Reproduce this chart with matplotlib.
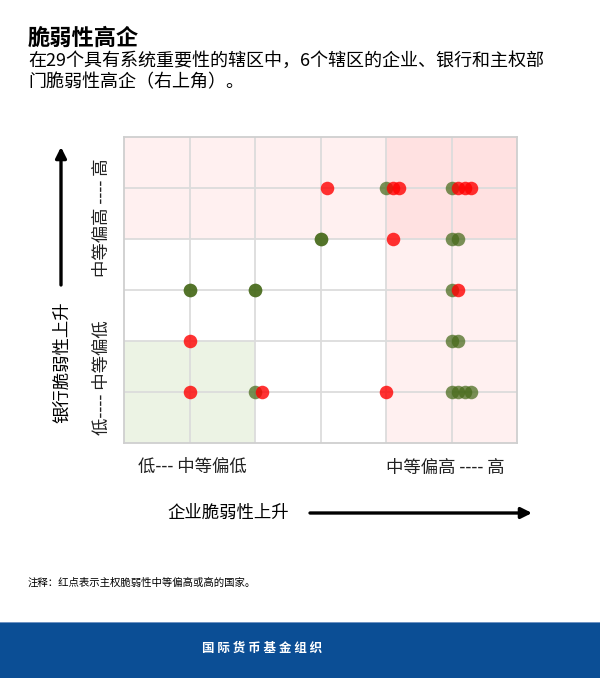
import matplotlib
matplotlib.use("Agg")
import matplotlib.pyplot as plt
from matplotlib.patches import Rectangle

plt.rcParams['font.family'] = ['Noto Sans CJK SC', 'DejaVu Sans']

# jurisdictions without high sovereign vulnerability (green)
green_x = [4.0, 5.0, 3.0, 3.0, 5.0, 5.1, 1.0, 1.0, 2.0, 2.0, 5.0, 5.0, 5.1, 2.0, 5.0, 5.1, 5.2, 5.3]
green_y = [5, 5, 4, 4, 4, 4, 3, 3, 3, 3, 3, 2, 2, 1, 1, 1, 1, 1]
# jurisdictions with medium-high / high sovereign vulnerability (red)
red_x = [3.1, 4.1, 4.2, 5.1, 5.2, 5.3, 4.1, 5.1, 1.0, 1.0, 2.1, 4.0]
red_y = [5, 5, 5, 5, 5, 5, 4, 3, 2, 1, 1, 1]

title = "脆弱性高企"
subtitle1 = "在29个具有系统重要性的辖区中，6个辖区的企业、银行和主权部"
subtitle2 = "门脆弱性高企（右上角）。"
x_low, x_high = "低--- 中等偏低", "中等偏高 ---- 高"
y_low, y_high = "低---- 中等偏低", "中等偏高 ---- 高"
x_title = "企业脆弱性上升"
y_title = "银行脆弱性上升"
note = "注释：红点表示主权脆弱性中等偏高或高的国家。"
footer = "国 际 货 币 基 金 组 织"

fig = plt.figure(figsize=(6, 6.78), dpi=100)
ax = fig.add_axes([124 / 600, 1 - 443 / 678, 393 / 600, 306 / 678])

# shaded zones
ax.axhspan(4, 6, color='red', alpha=0.06, lw=0, zorder=0)
ax.axvspan(4, 6, color='red', alpha=0.06, lw=0, zorder=0)
ax.add_patch(Rectangle((0, 0), 2, 2, color='#e9f2e0', alpha=0.85, lw=0, zorder=0))

ax.scatter(green_x, green_y, s=95, color='#466919', alpha=0.72, lw=0, zorder=3)
ax.scatter(red_x, red_y, s=95, color='#ff0000', alpha=0.8, lw=0, zorder=4)

ax.set_xlim(0, 6)
ax.set_ylim(0, 6)
ax.set_xticks(range(1, 6))
ax.set_yticks(range(1, 6))
ax.tick_params(length=0, labelbottom=False, labelleft=False)
ax.grid(True, color='#dcdcdc', lw=1.3, zorder=1)
ax.set_axisbelow(True)
for sp in ax.spines.values():
    sp.set_color('#cfcfcf')
    sp.set_linewidth(1.3)

# titles
fig.text(28 / 600, 1 - 38 / 678, title, fontsize=16, fontweight='bold', va='center')
fig.text(28 / 600, 1 - 61 / 678, subtitle1, fontsize=13, va='center')
fig.text(28 / 600, 1 - 82 / 678, subtitle2, fontsize=13, va='center')

# axis category labels
fig.text(102 / 600, 1 - 378 / 678, y_low, fontsize=12.5, rotation=90, ha='center', va='center', color='#222222')
fig.text(102 / 600, 1 - 218 / 678, y_high, fontsize=12.5, rotation=90, ha='center', va='center', color='#222222')
fig.text(138 / 600, 1 - 467 / 678, x_low, fontsize=12.5, va='center', color='#222222')
fig.text(386 / 600, 1 - 468 / 678, x_high, fontsize=12.5, va='center', color='#222222')

# axis titles with arrows
fig.text(62 / 600, 1 - 362 / 678, y_title, fontsize=12.5, rotation=90, ha='center', va='center')
fig.text(167 / 600, 1 - 513 / 678, x_title, fontsize=12.5, va='center')
arrow = dict(arrowstyle='-|>', lw=2.4, color='black', mutation_scale=16, shrinkA=0, shrinkB=0)
ax.annotate('', xy=(61 / 600, 1 - 147 / 678), xytext=(61 / 600, 1 - 285 / 678),
            xycoords='figure fraction', textcoords='figure fraction', arrowprops=arrow)
ax.annotate('', xy=(532 / 600, 1 - 513 / 678), xytext=(310 / 600, 1 - 513 / 678),
            xycoords='figure fraction', textcoords='figure fraction', arrowprops=arrow)

fig.text(28 / 600, 1 - 583 / 678, note, fontsize=7.5, va='center')

# footer band
fig.add_artist(Rectangle((0, 0), 1, 55 / 678, transform=fig.transFigure, color='#0b4e95', lw=0))
fig.add_artist(Rectangle((0, 55 / 678), 1, 1.5 / 678, transform=fig.transFigure, color='#6f93c2', lw=0))
fig.text(262 / 600, 1 - 648 / 678, footer, fontsize=9, fontweight='bold', color='white', ha='center', va='center')

fig.savefig('out.png', dpi=100)
